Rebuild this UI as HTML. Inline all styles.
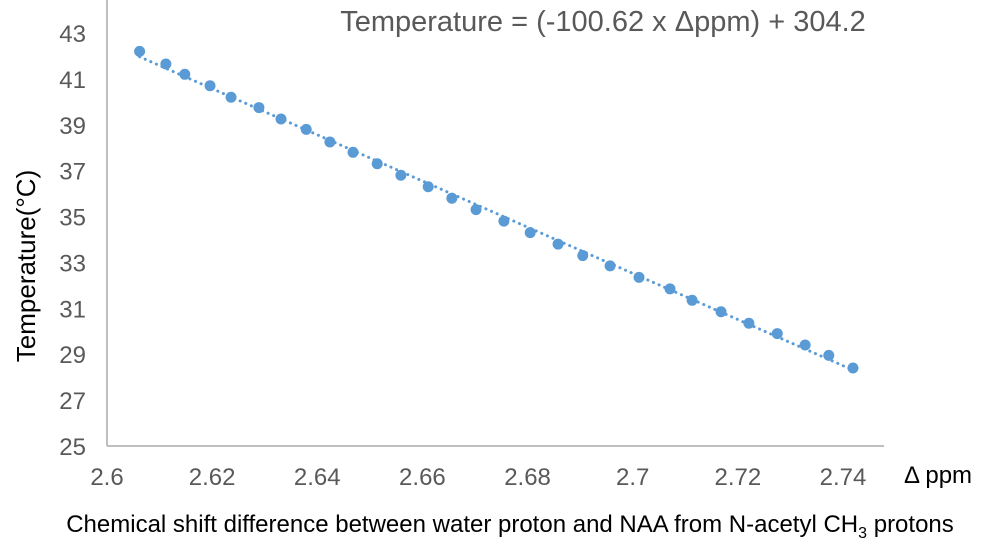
<!DOCTYPE html>
<html><head><meta charset="utf-8"><style>
body{margin:0;background:#fff;width:988px;height:554px;overflow:hidden;font-family:"Liberation Sans",Arial,sans-serif}
svg text{font-family:"Liberation Sans",Arial,sans-serif}
</style></head><body>
<svg id="chart" width="988" height="554" xmlns="http://www.w3.org/2000/svg">
<g id="axes"></g>
<g id="marks"></g>
<text x="603" y="31" font-size="29" fill="#595959" text-anchor="middle">Temperature = (-100.62 x Δppm) + 304.2</text>
<text transform="translate(35,266) rotate(-90)" font-size="26" fill="#000" text-anchor="middle">Temperature(°C)</text>
<text x="938" y="483" font-size="24" fill="#000" text-anchor="middle">Δ ppm</text>
<text x="510" y="532" font-size="24" fill="#000" text-anchor="middle">Chemical shift difference between water proton and NAA from N-acetyl CH<tspan font-size="16" dy="6">3</tspan><tspan dy="-6"> protons</tspan></text>
</svg>
<script>
const xTicks=[2.6,2.62,2.64,2.66,2.68,2.7,2.72,2.74];
const xTickLabels=["2.6","2.62","2.64","2.66","2.68","2.7","2.72","2.74"];
const yTicks=[25,27,29,31,33,35,37,39,41,43];
const yTickLabels=["25","27","29","31","33","35","37","39","41","43"];
const ppm=[2.6062,2.6112,2.6148,2.6196,2.6236,2.6289,2.6331,2.6379,2.6424,2.6468,2.6514,2.6559,2.6611,2.6656,2.6702,2.6755,2.6805,2.6858,2.6905,2.6957,2.7012,2.7071,2.7113,2.7168,2.7221,2.7275,2.7328,2.7373,2.7419];
const temp=[42.2,41.65,41.2,40.7,40.2,39.75,39.25,38.8,38.25,37.8,37.3,36.8,36.3,35.8,35.3,34.8,34.3,33.8,33.3,32.85,32.35,31.85,31.35,30.85,30.35,29.9,29.4,28.95,28.4];
const slope=-100.62, intercept=304.2;
const NS="http://www.w3.org/2000/svg";
const X0=107,PXPU=5257,Y0=446,Y1=33;
const sx=v=>X0+(v-2.6)*PXPU;
const sy=v=>Y0-(v-25)/18*(Y0-Y1);
function mk(t,a,p){const e=document.createElementNS(NS,t);for(const k in a)e.setAttribute(k,a[k]);p.appendChild(e);return e;}
const axes=document.getElementById('axes'),marks=document.getElementById('marks');
let l=mk('line',{x1:X0,y1:0,x2:X0,y2:Y0,stroke:'#bfbfbf','stroke-width':2},axes);

l=mk('line',{x1:X0,y1:Y0,x2:884,y2:Y0,stroke:'#bfbfbf','stroke-width':2},axes);

yTicks.forEach((v,i)=>{const t=mk('text',{x:86,y:sy(v)+9,'font-size':24,fill:'#595959','text-anchor':'end'},axes);t.textContent=yTickLabels[i];
});
xTicks.forEach((v,i)=>{const t=mk('text',{x:sx(v),y:485,'font-size':24,fill:'#595959','text-anchor':'middle'},axes);t.textContent=xTickLabels[i];
});
const xa=ppm[0],xb=ppm[ppm.length-1];
const tr=mk('line',{x1:sx(xa),y1:sy(slope*xa+intercept),x2:sx(xb),y2:sy(slope*xb+intercept),stroke:'#5b9bd5','stroke-width':3,'stroke-dasharray':'0.1 6','stroke-linecap':'round'},marks);

ppm.forEach((v,i)=>{const c=mk('circle',{cx:sx(v),cy:sy(temp[i]),r:5.5,fill:'#5b9bd5'},marks);
});
</script>
</body></html>
